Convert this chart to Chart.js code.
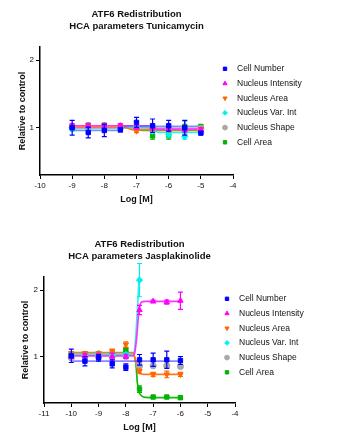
<!DOCTYPE html>
<html>
<head>
<meta charset="utf-8">
<script src="https://cdn.jsdelivr.net/npm/chart.js@4/dist/chart.umd.min.js"></script>
<style>
  body { margin: 0; background: #fff; }
  canvas { display: block; }
</style>
</head>
<body>
<canvas id="chartTuni" width="349" height="205"></canvas>
<canvas id="chartJasp" width="349" height="231"></canvas>
<script>

// series names and colours
var seriesNames = ['Cell Number', 'Nucleus Intensity', 'Nucleus Area', 'Nucleus Var. Int', 'Nucleus Shape', 'Cell Area'];
var seriesColors = ['#0000ff', '#ff00ff', '#ff6600', '#00f0f0', '#a8a8a8', '#00b400'];
var fitColors = ['rgba(70,70,255,0.65)', '#ff33ff', '#ff7722', '#33eeee', '#b8b8b8', '#11bb11'];
var seriesShapes = ['rect', 'triangle', 'triangle', 'rectRot', 'circle', 'rect'];
var seriesRotation = [0, 0, 180, 0, 0, 0];

// ---- Tunicamycin ----
var tuniDose = [-9, -8.5, -8, -7.5, -7, -6.5, -6, -5.5, -5];
var tuniCellNumber = [1.00, 0.93, 0.96, 0.97, 1.08, 1.03, 1.03, 1.00, 0.92];
var tuniCellNumberErr = [0.11, 0.08, 0.09, 0.03, 0.075, 0.10, 0.08, 0.11, 0.02];
var tuniNucInt = [1.03, 1.03, 1.03, 1.03, 1.01, 1.00, 0.98, 0.97, 0.97];
var tuniNucIntErr = [0.03, 0.03, 0.03, 0.03, 0.03, 0.03, 0.03, 0.03, 0.03];
var tuniNucArea = [1.02, 1.02, 1.02, 1.02, 0.95, 0.97, 0.97, 0.97, 0.98];
var tuniNucAreaErr = [0.02, 0.02, 0.02, 0.02, 0.02, 0.02, 0.02, 0.02, 0.02];
var tuniNucVar = [0.98, 1.00, 1.00, 1.00, 1.00, 0.95, 0.90, 0.87, 0.93];
var tuniNucVarErr = [0.03, 0.02, 0.02, 0.02, 0.02, 0.03, 0.04, 0.04, 0.02];
var tuniNucShape = [1.00, 1.00, 1.00, 1.00, 1.00, 1.00, 0.99, 0.99, 0.99];
var tuniNucShapeErr = [0.02, 0.02, 0.02, 0.02, 0.02, 0.02, 0.02, 0.02, 0.02];
var tuniCellArea = [1.02, 1.04, 1.04, 1.02, 1.00, 0.88, 0.88, 1.02, 1.02];
var tuniCellAreaErr = [0.02, 0.02, 0.02, 0.02, 0.02, 0.05, 0.05, 0.08, 0.02];

// fitted curves
var tuniFitCellNumberX = [-9, -7.6, -7.4, -5];
var tuniFitCellNumberY = [0.96, 0.96, 1.02, 1.02];
var tuniFitNucIntX = [-9, -6.6, -6.3, -5];
var tuniFitNucIntY = [1.03, 1.03, 0.98, 0.98];
var tuniFitNucAreaX = [-9, -7.4, -7.1, -5];
var tuniFitNucAreaY = [1.01, 1.01, 0.97, 0.97];
var tuniFitNucVarX = [-9, -6.6, -6.3, -5];
var tuniFitNucVarY = [1.00, 1.00, 0.93, 0.93];
var tuniFitNucShapeX = [-9, -5];
var tuniFitNucShapeY = [1.00, 0.99];
var tuniFitCellAreaX = [-9, -7.2, -6.8, -5];
var tuniFitCellAreaY = [1.00, 1.00, 0.96, 0.96];

var tuniXTicks = [-10, -4];

// ---- Jasplakinolide ----
var jaspDose = [-10, -9.5, -9, -8.5, -8, -7.5, -7, -6.5, -6];
var jaspCellNumber = [1.01, 0.93, 0.98, 0.89, 0.84, 0.95, 0.95, 0.95, 0.94];
var jaspCellNumberErr = [0.10, 0.07, 0.05, 0.06, 0.05, 0.08, 0.10, 0.13, 0.06];
var jaspNucInt = [1.00, 1.01, 1.01, 1.00, 1.00, 1.70, 1.83, 1.82, 1.84];
var jaspNucIntErr = [0.03, 0.03, 0.03, 0.05, 0.03, 0.07, 0.02, 0.03, 0.13];
var jaspNucArea = [1.05, 1.05, 1.05, 1.08, 1.18, 0.78, 0.73, 0.73, 0.73];
var jaspNucAreaErr = [0.02, 0.02, 0.02, 0.03, 0.04, 0.03, 0.03, 0.05, 0.03];
var jaspNucVar = [1.04, 1.04, 1.05, 1.04, 1.03, 2.15, null, null, null];
var jaspNucVarErr = [0.02, 0.02, 0.02, 0.02, 0.02, 0.25, 0, 0, 0];
var jaspNucShape = [0.98, 1.00, 1.00, 1.00, 1.00, 0.86, 0.86, 0.86, 0.85];
var jaspNucShapeErr = [0.02, 0.02, 0.02, 0.02, 0.02, 0.02, 0.02, 0.02, 0.02];
var jaspCellArea = [1.03, 1.03, 1.03, 1.04, 1.10, 0.51, 0.39, 0.39, 0.38];
var jaspCellAreaErr = [0.02, 0.02, 0.02, 0.02, 0.03, 0.05, 0.01, 0.01, 0.01];

var jaspFitCellNumberX = [-10, -6];
var jaspFitCellNumberY = [0.93, 0.93];
var jaspFitNucIntX = [-10, -7.75, -7.69, -7.6, -7.52, -7.42, -7.3, -6];
var jaspFitNucIntY = [1.01, 1.01, 1.03, 1.3, 1.7, 1.82, 1.83, 1.83];
var jaspFitNucAreaX = [-10, -7.75, -7.67, -7.6, -7.55, -7.45, -7.35, -6];
var jaspFitNucAreaY = [1.06, 1.06, 0.98, 0.85, 0.77, 0.74, 0.73, 0.73];
var jaspFitNucVarX = [-10, -7.75, -7.68, -7.62, -7.57, -7.52, -7.47, -7.4];
var jaspFitNucVarY = [1.04, 1.04, 1.1, 1.4, 1.75, 2.15, 2.5, 2.6];
var jaspFitCellAreaX = [-10, -7.75, -7.63, -7.58, -7.51, -7.4, -7.3, -6];
var jaspFitCellAreaY = [1.04, 1.04, 0.88, 0.61, 0.46, 0.4, 0.385, 0.38];

var jaspXTicks = [-11, -4];

var yTicks = [1, 2];
var yMin = 0.3, yMax = 2.2;

function makePoints(xs, ys) {
    var pts = [];
    for (var i = 0; i < xs.length; i++) {
        if (ys[i] !== null) pts.push({x: xs[i], y: ys[i]});
    }
    return pts;
}

// error bars drawn through the chart's scales, right after each marker set
var errorBars = {
    id: 'errorBars',
    afterDatasetDraw: function(chart, args) {
        var ds = chart.data.datasets[args.index];
        if (!ds.errors) return;
        var xs = chart.scales.x, ys = chart.scales.y;
        var ctx = chart.ctx;
        ctx.save();
        ctx.strokeStyle = ds.borderColor;
        ctx.lineWidth = 1.2;
        ds.data.forEach(function(p, i) {
            var e = ds.errors[i];
            if (!e) return;
            var px = xs.getPixelForValue(p.x);
            var top = ys.getPixelForValue(p.y + e);
            var bot = ys.getPixelForValue(p.y - e);
            ctx.beginPath();
            ctx.moveTo(px, top); ctx.lineTo(px, bot);
            ctx.moveTo(px - 2.5, top); ctx.lineTo(px + 2.5, top);
            ctx.moveTo(px - 2.5, bot); ctx.lineTo(px + 2.5, bot);
            ctx.stroke();
        });
        ctx.restore();
    }
};

// legend drawn beside the plot, overlapping the right end of the x range like the original
var sideLegend = {
    id: 'sideLegend',
    afterDraw: function(chart) {
        var ctx = chart.ctx;
        var area = chart.chartArea;
        var x = area.right - 8;
        var y0 = area.top + 22;
        ctx.save();
        ctx.font = '8.5px "Liberation Sans", Arial, sans-serif';
        ctx.textBaseline = 'middle';
        chart.data.datasets.forEach(function(ds, i) {
            if (!ds.errors) return;
            var y = y0 + i * 14.7;
            ctx.fillStyle = ds.backgroundColor;
            ctx.strokeStyle = ds.borderColor;
            ctx.lineWidth = 1;
            Chart.helpers.drawPoint(ctx, {pointStyle: ds.pointStyle, rotation: ds.rotation, radius: 2.4, borderWidth: 1}, x, y);
            ctx.fillStyle = '#111';
            ctx.fillText(ds.label, x + 12, y);
        });
        ctx.restore();
    }
};

function buildChart(id, opts) {
    var datasets = [];
    for (var i = 0; i < seriesNames.length; i++) {
        datasets.push({
            label: seriesNames[i],
            data: makePoints(opts.dose, opts.values[i]),
            errors: opts.errors[i],
            showLine: false,
            pointStyle: seriesShapes[i],
            rotation: seriesRotation[i],
            pointRadius: 3.1,
            borderWidth: 1,
            borderColor: seriesColors[i],
            backgroundColor: seriesColors[i]
        });
    }
    for (var j = 0; j < seriesNames.length; j++) {
        if (!opts.fits[j]) continue;
        datasets.push({
            label: '',
            data: makePoints(opts.fits[j][0], opts.fits[j][1]),
            showLine: true,
            pointRadius: 0,
            borderWidth: 1.7,
            borderColor: fitColors[j],
            backgroundColor: fitColors[j],
            cubicInterpolationMode: 'monotone'
        });
    }

    var tickFont = {family: '"Liberation Sans", Arial, sans-serif', size: 8};
    var titleFont = {family: '"Liberation Sans", Arial, sans-serif', size: 9, weight: 'bold'};

    return new Chart(document.getElementById(id), {
        type: 'scatter',
        data: {datasets: datasets},
        options: {
            responsive: false,
            animation: false,
            layout: {padding: {left: opts.padLeft, right: opts.padRight, top: opts.padTop, bottom: opts.padBottom}},
            plugins: {
                legend: {display: false},
                tooltip: {enabled: false},
                title: {
                    display: true,
                    text: opts.title,
                    fullSize: false,
                    color: '#111',
                    font: {family: '"Liberation Sans", Arial, sans-serif', size: 9.5, weight: 'bold', lineHeight: 1.2},
                    padding: {top: 0, bottom: opts.titleGap}
                }
            },
            scales: {
                x: {
                    type: 'linear',
                    min: opts.xTicks[0],
                    max: opts.xTicks[1],
                    afterFit: function(s) { s.height = 30; },
                    ticks: {stepSize: 1, color: '#111', font: tickFont, padding: 2},
                    grid: {drawOnChartArea: false, drawTicks: true, tickLength: 4, color: '#000', lineWidth: 1},
                    border: {color: '#000', width: 1.5},
                    title: {display: true, text: 'Log [M]', color: '#111', font: titleFont, padding: {top: 0, bottom: 0}}
                },
                y: {
                    type: 'linear',
                    min: yMin,
                    max: yMax,
                    afterFit: function(s) { s.width = opts.yWidth; },
                    afterBuildTicks: function(s) { s.ticks = yTicks.map(function(v) { return {value: v}; }); },
                    ticks: {color: '#111', font: tickFont, padding: 2},
                    grid: {drawOnChartArea: false, drawTicks: true, tickLength: 4, color: '#000', lineWidth: 1},
                    border: {color: '#000', width: 1.5},
                    title: {display: true, text: 'Relative to control', color: '#111', font: titleFont, padding: {top: 5, bottom: 0}}
                }
            }
        },
        plugins: [errorBars, sideLegend]
    });
}

buildChart('chartTuni', {
    title: ['ATF6 Redistribution', 'HCA parameters Tunicamycin'],
    dose: tuniDose,
    values: [tuniCellNumber, tuniNucInt, tuniNucArea, tuniNucVar, tuniNucShape, tuniCellArea],
    errors: [tuniCellNumberErr, tuniNucIntErr, tuniNucAreaErr, tuniNucVarErr, tuniNucShapeErr, tuniCellAreaErr],
    fits: [
        [tuniFitCellNumberX, tuniFitCellNumberY],
        [tuniFitNucIntX, tuniFitNucIntY],
        [tuniFitNucAreaX, tuniFitNucAreaY],
        [tuniFitNucVarX, tuniFitNucVarY],
        [tuniFitNucShapeX, tuniFitNucShapeY],
        [tuniFitCellAreaX, tuniFitCellAreaY]
    ],
    xTicks: tuniXTicks,
    padLeft: 12, padRight: 116, padTop: 9, padBottom: 0,
    titleGap: 15, yWidth: 28
});

buildChart('chartJasp', {
    title: ['ATF6 Redistribution', 'HCA parameters Jasplakinolide'],
    dose: jaspDose,
    values: [jaspCellNumber, jaspNucInt, jaspNucArea, jaspNucVar, jaspNucShape, jaspCellArea],
    errors: [jaspCellNumberErr, jaspNucIntErr, jaspNucAreaErr, jaspNucVarErr, jaspNucShapeErr, jaspCellAreaErr],
    fits: [
        [jaspFitCellNumberX, jaspFitCellNumberY],
        [jaspFitNucIntX, jaspFitNucIntY],
        [jaspFitNucAreaX, jaspFitNucAreaY],
        [jaspFitNucVarX, jaspFitNucVarY],
        null,
        [jaspFitCellAreaX, jaspFitCellAreaY]
    ],
    xTicks: jaspXTicks,
    padLeft: 15, padRight: 114, padTop: 34, padBottom: 3,
    titleGap: 15, yWidth: 29
});
</script>
</body>
</html>
